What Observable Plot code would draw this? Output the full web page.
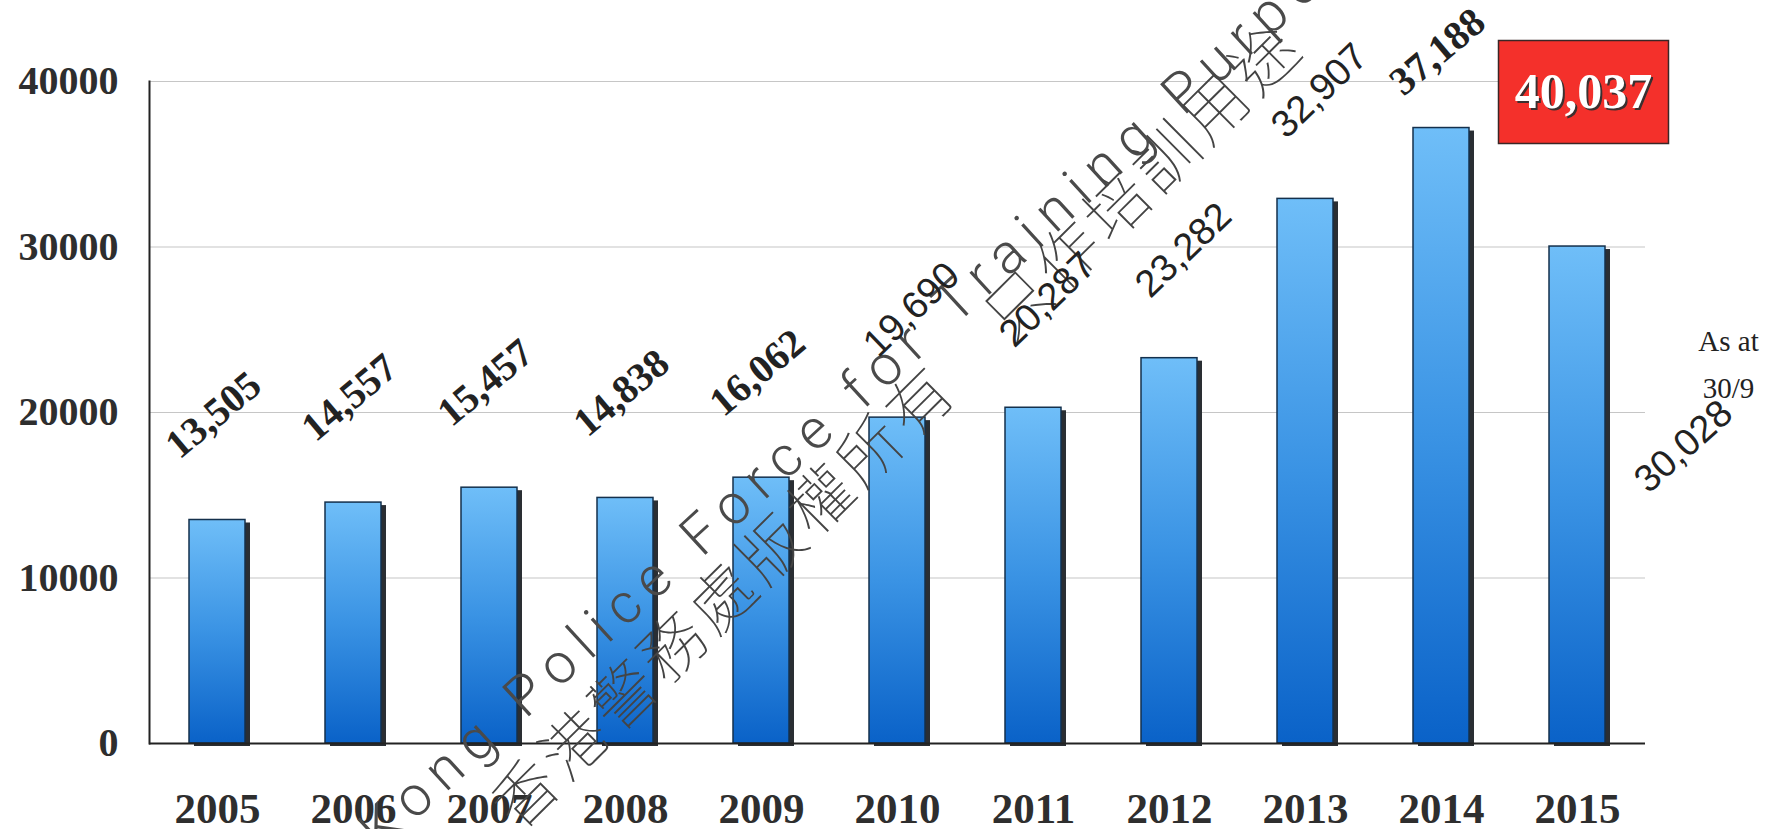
<!DOCTYPE html>
<html>
<head>
<meta charset="utf-8">
<script src="https://cdn.jsdelivr.net/npm/d3@7"></script>
<script src="https://cdn.jsdelivr.net/npm/@observablehq/plot@0.6"></script>
<style>
  html, body { margin: 0; padding: 0; background: #ffffff; }
  #chart svg { display: block; }
</style>
</head>
<body>
<div id="chart"></div>
<script>
// ---- data ----
const years = ["2005", "2006", "2007", "2008", "2009", "2010", "2011", "2012", "2013", "2014", "2015"];
const values = [13505, 14557, 15457, 14838, 16062, 19690, 20287, 23282, 32907, 37188, 30028];
const yTicks = [0, 10000, 20000, 30000, 40000];
const highlightValue = 40037;
const noteText = "As at\n30/9";
const watermarkEn = "Hong Kong Police Force for Training Purposes";
const watermarkZh = "香港警務處版權所有　只作培訓用途";

const data = years.map((year, i) => ({year, value: values[i]}));
const fmt = d3.format(",");

const SERIF = "'Liberation Serif', 'Times New Roman', serif";
const SANS = "'Liberation Sans', Arial, sans-serif";
const sansLabelYears = new Set(["2010", "2011", "2012", "2013"]);
const lastYear = years[years.length - 1];

const rectSymbol = {draw(ctx) { ctx.rect(-85, -51.5, 170, 103); }};

const chart = Plot.plot({
  width: 1770,
  height: 829,
  marginLeft: 149,
  marginRight: 125,
  marginTop: 81,
  marginBottom: 86,
  style: {fontFamily: SERIF, background: "#ffffff", overflow: "visible"},
  x: {domain: years, paddingInner: 0.59, paddingOuter: 0.295, axis: null},
  y: {domain: [0, 40000], axis: null},
  marks: [
    Plot.gridY(yTicks.filter(d => d > 0), {stroke: "#c6c6c6", strokeOpacity: 1, strokeWidth: 1.1}),
    Plot.axisY({ticks: yTicks, tickSize: 0, tickPadding: 31, tickFormat: d => String(d), label: null,
      fontSize: 40, fontWeight: "bold", fontFamily: SERIF, fill: "#2e2e2e"}),
    Plot.axisX({tickSize: 0, tickPadding: 49, label: null, fontSize: 43, fontWeight: "bold", fontFamily: SERIF, fill: "#2e2e2e"}),
    // bar shadows
    Plot.barY(data, {x: "year", y: "value", fill: "#2a2e33", dx: 5, dy: 3}),
    // bars
    Plot.barY(data, {x: "year", y: "value", fill: "url(#barGrad)", stroke: "#14304c", strokeWidth: 1.5}),
    Plot.ruleY([0], {stroke: "#222", strokeWidth: 2}),
    Plot.frame({anchor: "left", stroke: "#222", strokeWidth: 2}),
    // watermark
    Plot.text([watermarkEn], {frameAnchor: "top-left", textAnchor: "middle", lineAnchor: "middle",
      dx: 664, dy: 350, rotate: -42.5, text: d => d,
      fontFamily: "Roboto, 'DejaVu Sans', sans-serif", fontWeight: 300, fontSize: 56, fill: "#4a4a4a"}),
    Plot.text([watermarkZh], {frameAnchor: "top-left", textAnchor: "middle", lineAnchor: "middle",
      dx: 749, dy: 345, rotate: -44.8, text: d => d,
      fontFamily: "'Noto Sans CJK TC', 'Noto Sans CJK SC', sans-serif", fontWeight: 100, fontSize: 64, fill: "#444"}),
    // value labels (placed above the bar tops, kept inside the picture)
    Plot.text(data.filter(d => d.year !== lastYear && !sansLabelYears.has(d.year)), {
      x: "year", y: d => Math.min(d.value + 6350, 41800), text: d => fmt(d.value), rotate: -40, dx: -4,
      fontFamily: SERIF, fontWeight: "bold", fontSize: 40, fill: "#222"}),
    Plot.text(data.filter(d => sansLabelYears.has(d.year)), {
      x: "year", y: "value", text: d => fmt(d.value), rotate: -44, dx: 14, dy: -108,
      fontFamily: SANS, fontSize: 38, fill: "#222"}),
    Plot.text(data.filter(d => d.year === lastYear), {
      x: "year", y: "value", text: d => fmt(d.value), rotate: -42, dx: 106, dy: 200,
      fontFamily: SANS, fontSize: 38, fill: "#222"}),
    Plot.text(data.filter(d => d.year === lastYear), {
      x: "year", y: "value", text: () => noteText, dx: 151, dy: 113, lineHeight: 1.6,
      fontFamily: SERIF, fontSize: 29, fill: "#222"}),
    // highlighted total box
    Plot.dot([highlightValue], {x: () => lastYear, y: d => d, symbol: rectSymbol, r: 10,
      fill: "#f4302b", stroke: "#3a2626", strokeWidth: 1.5, dx: 6, dy: 11}),
    Plot.text([highlightValue], {x: () => lastYear, y: d => d, text: d => fmt(d), dx: 8, dy: 13,
      fontFamily: SERIF, fontWeight: "bold", fontSize: 50, fill: "#3a3030"}),
    Plot.text([highlightValue], {x: () => lastYear, y: d => d, text: d => fmt(d), dx: 6, dy: 11,
      fontFamily: SERIF, fontWeight: "bold", fontSize: 50, fill: "#ffffff"})
  ]
});

const svg = d3.select(chart);
const defs = svg.insert("defs", ":first-child");
const grad = defs.append("linearGradient").attr("id", "barGrad")
  .attr("x1", 0).attr("y1", 0).attr("x2", 0).attr("y2", 1);
grad.append("stop").attr("offset", "0%").attr("stop-color", "#6fbef8");
grad.append("stop").attr("offset", "50%").attr("stop-color", "#3a93e4");
grad.append("stop").attr("offset", "100%").attr("stop-color", "#0a62c8");

svg.selectAll("text").filter(function() { return this.textContent === watermarkEn; })
  .style("letter-spacing", "11px");
svg.selectAll("text").filter(function() { return this.textContent === watermarkZh; })
  .style("letter-spacing", "5.5px");

document.getElementById("chart").appendChild(chart);
</script>
</body>
</html>
